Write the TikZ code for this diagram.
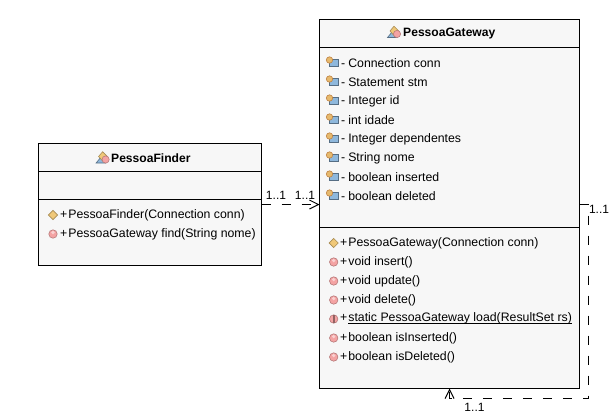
\documentclass[tikz,border=0pt]{standalone}
\usepackage{fontspec}
\setmainfont{Liberation Sans}
\usetikzlibrary{arrows.meta}

\definecolor{boxfill}{HTML}{F7F7F7}
\definecolor{methodpink}{HTML}{F4A3A3}
\definecolor{ctororange}{HTML}{F0C878}
\definecolor{fieldblue}{HTML}{8FB8DC}

\tikzset{
	classbox/.style={draw=black,fill=boxfill,line width=1pt,outer sep=0pt,inner sep=0pt},
	member/.style={anchor=west,inner sep=0pt,font=\fontsize{12.3}{14}\selectfont},
	classname/.style={anchor=west,inner sep=0pt,font=\fontsize{12.1}{14}\selectfont\bfseries},
	multi/.style={inner sep=0pt,font=\fontsize{12}{14}\selectfont},
	assoc/.style={line width=1pt,dash pattern=on 9pt off 11pt,-{Straight Barb[length=9pt,width=9pt,line width=1pt]}},
	methodicon/.pic={
		\fill[methodpink,draw=methodpink!75!black,line width=.6pt] (0,0) circle(4.2pt);
		\fill[white,opacity=.5] (0,-1.5) circle(1.8pt);
	},
	ctoricon/.pic={
		\fill[ctororange,draw=ctororange!70!black,line width=.6pt] (-4.6,0) -- (0,-4.6) -- (4.6,0) -- (0,4.6) -- cycle;
	},
	staticicon/.pic={
		\fill[methodpink,draw=methodpink!75!black,line width=.6pt] (0,0) circle(4.2pt);
		\fill[methodpink!60!black] (-1,-4) rectangle (1,4);
	},
	fieldicon/.pic={
		\fill[fieldblue,draw=fieldblue!60!black,line width=.6pt] (-3,-2.5) rectangle (6,4);
		\fill[ctororange!80!brown,draw=brown,line width=.6pt] (-2.5,-2) circle(3.2pt);
	},
	classicon/.pic={
		\fill[fieldblue,draw=fieldblue!60!black,line width=.6pt] (-6.5,5.5) -- (-2,0) -- (3,5.5) -- cycle;
		\fill[ctororange,draw=ctororange!70!black,line width=.6pt] (-4,-1) -- (0,-5.8) -- (4.8,-1) -- (0,3.5) -- cycle;
		\fill[methodpink,draw=methodpink!75!black,line width=.6pt] (3,2) circle(3.6pt);
	}
}

\begin{document}
\begin{tikzpicture}[x=1pt,y=-1pt]
	\useasboundingbox (0,0) rectangle (610,416);

	%the two classes
	\node[classbox,minimum width=223pt,minimum height=122pt] (finder) at (150,204.5) {};
	\node[classbox,minimum width=260pt,minimum height=369pt] (gateway) at (449.5,204) {};

	%compartment lines
	\draw[line width=1pt] (finder.west |- 0,171.5) -- (finder.east |- 0,171.5);
	\draw[line width=1pt] (finder.west |- 0,199.5) -- (finder.east |- 0,199.5);
	\draw[line width=1pt] (gateway.west |- 0,47.5) -- (gateway.east |- 0,47.5);
	\draw[line width=1pt] (gateway.west |- 0,227.5) -- (gateway.east |- 0,227.5);

	%class names
	\pic at (102.6,157.5) {classicon};
	\node[classname] (findername) at (111,158) {PessoaFinder};
	\pic at (394,32) {classicon};
	\node[classname] (gatewayname) at (403,34) {PessoaGateway};

	%fields
	\foreach \n/\y/\t in {conn/62/Connection conn,stm/81/Statement stm,id/100/Integer id,idade/119/int idade,
		dep/138/Integer dependentes,nome/157/String nome,ins/176/boolean inserted,del/195/boolean deleted}{
		\pic at (332,\y) {fieldicon};
		\node[member] (field\n) at (341,\y+1) {-\hspace{3pt}\t};
	}

	%methods of the gateway
	\foreach \n/\y/\t in {insert/261/void insert(),update/280/void update(),delete/299/void delete(),
		isins/337/boolean isInserted(),isdel/356/boolean isDeleted()}{
		\pic at (333.7,\y+1) {methodicon};
		\node[member] (method\n) at (340,\y+1) {+\hspace{1pt}\t};
	}
	\pic at (333.7,243) {ctoricon};
	\node[member] (gatewayctor) at (340,243) {+\hspace{1pt}PessoaGateway(Connection conn)};
	\pic at (333.7,319) {staticicon};
	\node[member] (methodload) at (340,319) {+\hspace{1pt}\underline{\smash{static PessoaGateway load(ResultSet rs)}}};

	%methods of the finder
	\pic at (53,215) {ctoricon};
	\node[member] (finderctor) at (60,215.5) {+\hspace{1pt}PessoaFinder(Connection conn)};
	\pic at (53,234) {methodicon};
	\node[member] (finderfind) at (60,234) {+\hspace{1pt}PessoaGateway find(String nome)};

	%associations
	\draw[assoc] (finder.east) -- (finder.east -| gateway.west);
	\draw[assoc] (finder.east -| gateway.east) -- ++(9,0) -- ++(0,194) -| (gateway.south);

	%multiplicities
	\node[multi] (multifinder) at (276,195.5) {1..1};
	\node[multi] (multigateway) at (305,195.5) {1..1};
	\node[multi] (multiout) at (599,209.5) {1..1};
	\node[multi] (multiin) at (474.5,407.5) {1..1};
\end{tikzpicture}
\end{document}
